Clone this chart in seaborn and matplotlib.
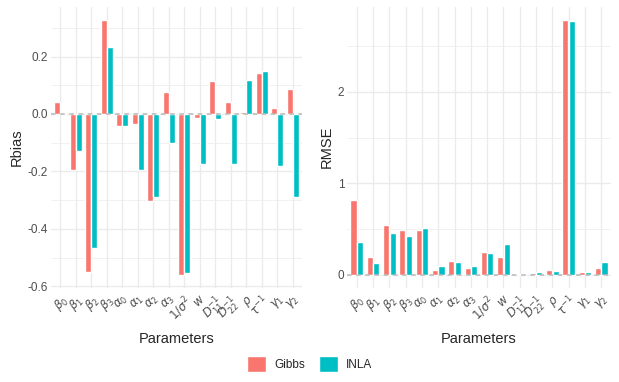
"""Relative bias and RMSE of Gibbs vs INLA estimates, per parameter."""
import matplotlib
matplotlib.use("Agg")
import matplotlib.pyplot as plt
from matplotlib.patches import Patch
from matplotlib.ticker import MultipleLocator
import pandas as pd
import seaborn as sns

PARAMS = [r"$\beta_0$", r"$\beta_1$", r"$\beta_2$", r"$\beta_3$",
          r"$\alpha_0$", r"$\alpha_1$", r"$\alpha_2$", r"$\alpha_3$",
          r"$1/\sigma^2$", r"$w$", r"$D_{11}^{-1}$", r"$D_{22}^{-1}$",
          r"$\rho$", r"$\tau^{-1}$", r"$\gamma_1$", r"$\gamma_2$"]
METHODS = ["Gibbs", "INLA"]
COLORS = ["#F8766D", "#00BFC4"]

RBIAS_GIBBS = [0.042, -0.194, -0.550, 0.328, -0.041, -0.035, -0.302, 0.077,
               -0.560, -0.013, 0.115, 0.042, 0.007, 0.143, 0.021, 0.087]
RBIAS_INLA = [0.003, -0.128, -0.466, 0.234, -0.041, -0.194, -0.288, -0.100,
              -0.553, -0.173, -0.017, -0.173, 0.119, 0.148, -0.180, -0.288]
RMSE_GIBBS = [0.820, 0.197, 0.547, 0.493, 0.493, 0.055, 0.153, 0.077,
              0.252, 0.197, 0.007, 0.022, 0.055, 2.790, 0.033, 0.077]
RMSE_INLA = [0.361, 0.131, 0.460, 0.427, 0.515, 0.099, 0.142, 0.099,
             0.241, 0.339, 0.004, 0.033, 0.044, 2.775, 0.033, 0.142]

GRID = "#EBEBEB"
TXT = "#4D4D4D"


def long_frame(gibbs, inla, name):
    rows = []
    for p, g, i in zip(PARAMS, gibbs, inla):
        rows.append({"Parameters": p, "Method": "Gibbs", name: g})
        rows.append({"Parameters": p, "Method": "INLA", name: i})
    return pd.DataFrame(rows)


def panel(ax, df, name, major):
    sns.barplot(data=df, x="Parameters", y=name, hue="Method",
                hue_order=METHODS, palette=COLORS, order=PARAMS,
                width=0.8, gap=0.06, saturation=1, legend=False, ax=ax,
                zorder=2)
    ax.axhline(0, color="#B8B8B8", lw=1.1, ls=(0, (3, 3)), zorder=3)
    lo, hi = min(df[name].min(), 0), df[name].max()
    pad = (hi - lo) * 0.05
    ax.set_ylim(lo - pad, hi + pad)
    ax.set_xlim(-0.6, len(PARAMS) - 0.4)
    ax.yaxis.set_major_locator(MultipleLocator(major))
    ax.yaxis.set_minor_locator(MultipleLocator(major / 2))
    ax.grid(True, which="major", color=GRID, lw=1.0, zorder=0)
    ax.grid(True, which="minor", axis="y", color=GRID, lw=0.5, zorder=0)
    ax.set_axisbelow(True)
    for s in ax.spines.values():
        s.set_visible(False)
    ax.tick_params(which="both", length=0, colors=TXT, labelsize=8.5, pad=2)
    ax.tick_params(axis="x", pad=4)
    plt.setp(ax.get_xticklabels(), rotation=45, ha="right",
             rotation_mode="anchor")
    ax.set_xlabel("Parameters", fontsize=10.5, labelpad=6)
    ax.set_ylabel(name, fontsize=10.5, labelpad=3)


sns.set_style("white")
plt.rcParams["font.family"] = ["Liberation Sans", "DejaVu Sans"]
plt.rcParams["mathtext.fontset"] = "dejavusans"

fig = plt.figure(figsize=(6.19, 3.82), dpi=100)
W, H = 619, 382
ax1 = fig.add_axes([51 / W, (H - 287.5) / H, 251 / W, 280.5 / H])
ax2 = fig.add_axes([347 / W, (H - 287.5) / H, 264 / W, 280.5 / H])

panel(ax1, long_frame(RBIAS_GIBBS, RBIAS_INLA, "Rbias"), "Rbias", 0.2)
ax1.yaxis.set_major_formatter(lambda v, _: f"{v:.1f}")
panel(ax2, long_frame(RMSE_GIBBS, RMSE_INLA, "RMSE"), "RMSE", 1)

handles = [Patch(facecolor=c, edgecolor="white", label=m)
           for m, c in zip(METHODS, COLORS)]
fig.legend(handles=handles, loc="center", bbox_to_anchor=(0.5, 18 / H),
           ncol=2, frameon=False, fontsize=8.5, handlelength=1.6,
           handleheight=1.6, columnspacing=1.2, handletextpad=0.7)

fig.savefig("out.png", dpi=100)
